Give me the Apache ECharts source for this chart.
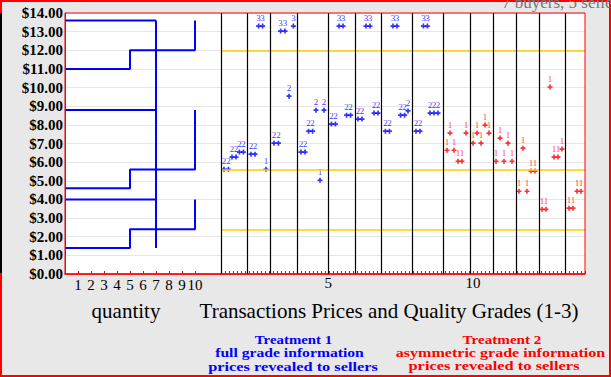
<!DOCTYPE html>
<html><head><meta charset="utf-8">
<script src="https://cdn.jsdelivr.net/npm/echarts@6/dist/echarts.min.js"></script>
<style>html,body{margin:0;padding:0;background:#e8e8e8}#c{width:611px;height:377px}</style>
</head><body><div id="c"></div>
<script>
// ---- data ----
const quantityTicks = [1, 2, 3, 4, 5, 6, 7, 8, 9, 10];
const buyersPerGrade = 7;
const sellerBlock = 5;
const gradeValues = [4.0, 8.8, 13.6];               // buyer value, grades 1..3
const gradeCosts = [[1.4, 2.4], [4.6, 5.6], [11.0, 12.0]]; // seller cost steps, grades 1..3
const equilibriumPrices = [2.4, 5.6, 12.0];
const periodBoundaries = [0, 6.6, 12.25, 19, 26.75, 33.5, 40, 47.75, 55.5, 62.25, 68, 73.75, 79.5, 86.1];
const periodTickPos = [26.8, 63.0];
const periodTickLabels = ['5', '10'];

const t1X = [0.75, 1.85, 2.75, 3.75, 4.6, 5.6,
  7.5, 8.5, 9.4, 10.4, 11.25,
  13.25, 14.35, 14.9, 16, 17, 18.1,
  20, 21, 21.9, 22.9, 23.75, 24.75, 25.75,
  27.6, 28.6, 29.5, 30.5, 31.4, 32.4,
  34.25, 35.25, 36.25, 37.25, 38.25, 39.25,
  41.1, 42.1, 43, 44, 44.9, 45.9, 46.75,
  48.75, 49.75, 50.6, 51.6, 52.25, 53.25, 54.25];
const t1Price = [5.62, 5.62, 6.27, 6.27, 6.54, 6.54,
  6.43, 6.43, 13.3, 13.3, 5.62,
  7.02, 7.02, 13.03, 13.03, 9.54, 13.3,
  6.54, 6.54, 7.66, 7.66, 8.79, 5.03, 8.79,
  8.04, 8.04, 13.3, 13.3, 8.52, 8.52,
  8.31, 8.31, 13.3, 13.3, 8.63, 8.63,
  7.66, 7.66, 13.3, 13.3, 8.52, 8.52, 8.75,
  7.66, 7.66, 13.3, 13.3, 8.63, 8.63, 8.63];
const t1Grade = [2, 2, 2, 2, 2, 2,
  2, 2, 3, 3, 1,
  2, 2, 3, 3, 2, 3,
  2, 2, 2, 2, 2, 1, 2,
  2, 2, 3, 3, 2, 2,
  2, 2, 3, 3, 2, 2,
  2, 2, 3, 3, 2, 2, 2,
  2, 2, 3, 3, 2, 2, 2];

const t2X = [56.5, 57.25, 58.25, 59.25, 60.25, 61.25,
  63, 64, 65, 66, 67,
  68.75, 69.75, 70.75, 71.75, 72.75,
  74.5, 75.5, 76.5, 77.5, 78.5,
  80.25, 81.25, 82.25, 83.25, 84.25, 85.25,
  87, 88, 89, 90];
const t2Price = [6.64, 7.56, 6.64, 6.05, 6.05, 7.56,
  7.02, 7.56, 7.02, 7.99, 7.56,
  6.05, 7.29, 6.05, 7.02, 6.05,
  4.44, 6.75, 4.44, 5.52, 5.52,
  3.47, 3.47, 10.03, 6.27, 6.27, 6.70,
  3.53, 3.53, 4.44, 4.44];
const t2Grade = [1, 1, 1, 1, 1, 1,
  1, 1, 1, 1, 1,
  1, 1, 1, 1, 1,
  1, 1, 1, 1, 1,
  1, 1, 1, 1, 1, 1,
  1, 1, 1, 1];

// ---- build ----
const BLUE = '#0000ff', RED = '#ff0000', GOLD = '#ffcc00';
const SERIF = '"Liberation Serif", "DejaVu Serif", serif';
const plusPath = 'path://M2,0H4V2H6V4H4V6H2V4H0V2H2Z';

const demandLines = gradeValues.map(v => [[0, v], [buyersPerGrade, v]]);
const demandDrop = [[buyersPerGrade, Math.max(...gradeValues)], [buyersPerGrade, Math.min(...gradeCosts.flat())]];
const supplyLines = gradeCosts.map((c, i) => [[0, c[0]], [sellerBlock, c[0]], [sellerBlock, c[1]],
  [2 * sellerBlock, c[1]], [2 * sellerBlock, gradeValues[i]]]);

const stepSeries = [...demandLines, demandDrop, ...supplyLines].map(d => ({
  type: 'line', xAxisIndex: 0, yAxisIndex: 0, data: d, showSymbol: false, silent: true,
  lineStyle: { color: BLUE, width: 2 }, z: 3
}));

function scatter(xs, ps, gs, color) {
  return {
    type: 'scatter', xAxisIndex: 1, yAxisIndex: 1, silent: true, z: 4,
    data: xs.map((x, i) => [x, ps[i]]),
    symbol: plusPath, symbolSize: 5,
    itemStyle: { color },
    label: { show: true, position: 'top', distance: 1, color, fontSize: 9, fontFamily: SERIF,
      formatter: p => String(gs[p.dataIndex]) }
  };
}

function legendLine(text, cx, cy, sx, color) {
  return { type: 'text', silent: true, x: cx, y: cy, scaleX: sx,
    style: { text, x: 0, y: 0, textAlign: 'center', textVerticalAlign: 'middle',
      font: 'bold 13.5px ' + SERIF, fill: color } };
}

const yAxisBase = {
  type: 'value', min: 0, max: 14, interval: 1,
  splitLine: { show: true, lineStyle: { color: '#e6e6e6', width: 1 } },
  axisTick: { show: false }
};

const option = {
  animation: false,
  backgroundColor: '#e8e8e8',
  grid: [
    { left: 65, top: 13, width: 156, height: 261, show: true, backgroundColor: '#fff', borderWidth: 0 },
    { left: 221, top: 13, width: 364, height: 261, show: true, backgroundColor: '#fff', borderWidth: 0 }
  ],
  xAxis: [
    { gridIndex: 0, type: 'value', min: 0, max: 12,
      axisLine: { lineStyle: { color: RED, width: 1.5 } },
      axisTick: { inside: true, length: 3, customValues: quantityTicks, lineStyle: { color: RED } },
      axisLabel: { customValues: quantityTicks, color: '#000', fontSize: 15, fontFamily: SERIF, margin: 3 },
      splitLine: { show: false } },
    { gridIndex: 1, type: 'value', min: 0, max: 91, interval: 1,
      axisLine: { lineStyle: { color: RED, width: 1.5 } },
      axisTick: { inside: true, length: 3, lineStyle: { color: RED } },
      axisLabel: { customValues: periodTickPos, color: '#000', fontSize: 15, fontFamily: SERIF, margin: 1,
        formatter: v => { const i = periodTickPos.indexOf(v); return i >= 0 ? periodTickLabels[i] : ''; } },
      splitLine: { show: false } }
  ],
  yAxis: [
    Object.assign({}, yAxisBase, { gridIndex: 0,
      axisLine: { show: true, lineStyle: { color: RED, width: 1 } },
      axisLabel: { color: '#000', fontSize: 15, fontWeight: 'bold', fontFamily: SERIF, margin: 2,
        formatter: v => '$' + v.toFixed(2) } }),
    Object.assign({}, yAxisBase, { gridIndex: 1, axisLine: { show: false }, axisLabel: { show: false } })
  ],
  series: [
    ...stepSeries,
    { type: 'line', xAxisIndex: 1, yAxisIndex: 1, data: [], silent: true, z: 2,
      markLine: { silent: true, symbol: ['none', 'none'], label: { show: false }, animation: false,
        data: [
          ...equilibriumPrices.map(v => ({ yAxis: v, lineStyle: { color: GOLD, width: 1.5, type: 'solid' } })),
          ...periodBoundaries.map(v => ({ xAxis: v, lineStyle: { color: '#000', width: 1.2, type: 'solid' } }))
        ] } },
    scatter(t1X, t1Price, t1Grade, BLUE),
    scatter(t2X, t2Price, t2Grade, RED)
  ],
  graphic: [
    { type: 'rect', z: 100, silent: true, shape: { x: 65, y: 13, width: 520, height: 261 },
      style: { fill: 'none', stroke: RED, lineWidth: 1 } },
    { type: 'rect', z: 100, silent: true, shape: { x: 1, y: 1, width: 609, height: 375 },
      style: { fill: 'none', stroke: RED, lineWidth: 2 } },
    { type: 'line', z: 101, silent: true, shape: { x1: 1, y1: 13, x2: 1, y2: 273 },
      style: { stroke: '#000', lineWidth: 2 } },
    { type: 'text', z: 100, silent: true, style: { text: '7 buyers, 5 sellers', x: 502, y: 2,
      textAlign: 'left', textVerticalAlign: 'middle', font: '17px ' + SERIF, fill: '#777' } },
    { type: 'text', silent: true, style: { text: 'quantity', x: 126, y: 311, textAlign: 'center',
      textVerticalAlign: 'middle', font: '21px ' + SERIF, fill: '#000' } },
    { type: 'text', silent: true, style: { text: 'Transactions Prices and Quality Grades (1-3)', x: 389, y: 311,
      textAlign: 'center', textVerticalAlign: 'middle', font: '21px ' + SERIF, fill: '#000' } },
    legendLine('Treatment 1', 293.5, 339, 1.10, BLUE),
    legendLine('full grade information', 289.5, 352.5, 1.16, BLUE),
    legendLine('prices revealed to sellers', 293, 366, 1.21, BLUE),
    legendLine('Treatment 2', 502, 339, 1.12, RED),
    legendLine('asymmetric grade information', 500.5, 352.5, 1.19, RED),
    legendLine('prices revealed to sellers', 494, 366, 1.22, RED)
  ]
};

const chart = echarts.init(document.getElementById('c'), null, { renderer: 'svg', width: 611, height: 377 });
chart.setOption(option);
</script>
</body></html>
